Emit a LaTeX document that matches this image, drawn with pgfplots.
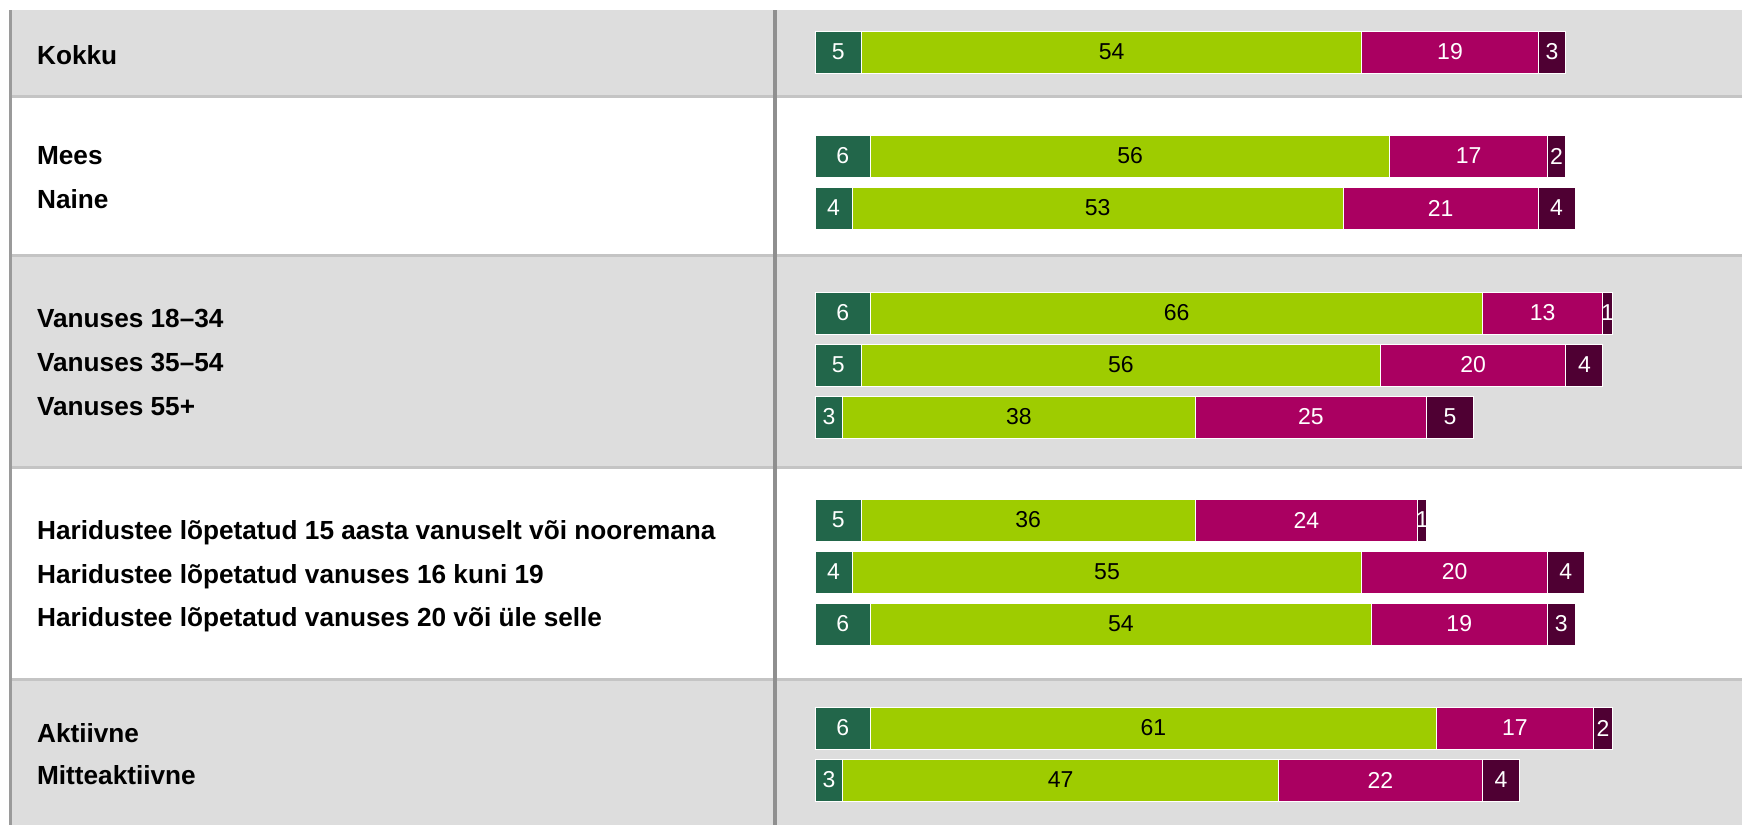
\documentclass[border=0pt]{standalone}
\usepackage{fontspec}
\setmainfont{Liberation Sans}
\usepackage{pgfplots}
\usepackage{pgfplotstable}
\pgfplotsset{compat=1.18}
\definecolor{cA}{HTML}{22664A}
\definecolor{cB}{HTML}{9ECC00}
\definecolor{cC}{HTML}{AA0061}
\definecolor{cD}{HTML}{4F0033}
\definecolor{panelgray}{HTML}{DDDDDD}
\definecolor{sepgray}{HTML}{C4C4C4}
\definecolor{vlgray}{HTML}{8F8F8F}
\definecolor{lbgray}{HTML}{9A9A9A}
\pgfplotstableread{
y a b c d
52 5 54 19 3
156 6 56 17 2
208 4 53 21 4
313 6 66 13 1
365 5 56 20 4
417 3 38 25 5
520 5 36 24 1
572 4 55 20 4
624 6 54 19 3
728 6 61 17 2
780 3 47 22 4
}\data
\pgfplotsset{base/.style={width=871pt,height=412.5pt,scale only axis,
  xmin=-87.92,xmax=100,ymin=0,ymax=825,y dir=reverse,hide axis,
  /pgf/number format/assume math mode=true}}
\newcommand{\lab}{\fontsize{13.1}{16}\selectfont\bfseries}
\begin{document}
\begin{tikzpicture}
\begin{axis}[base]
\fill[white] (axis cs:-87.92,0) rectangle (axis cs:100,825);
\fill[panelgray] (axis cs:-86.76,10) rectangle (axis cs:100,96.5);
\fill[panelgray] (axis cs:-86.76,255) rectangle (axis cs:100,467);
\fill[panelgray] (axis cs:-86.76,679) rectangle (axis cs:100,825);
\draw[sepgray, line width=1.5pt] (axis cs:-86.76,96.5) -- (axis cs:100,96.5);
\draw[sepgray, line width=1.5pt] (axis cs:-86.76,255) -- (axis cs:100,255);
\draw[sepgray, line width=1.5pt] (axis cs:-86.76,467) -- (axis cs:100,467);
\draw[sepgray, line width=1.5pt] (axis cs:-86.76,679) -- (axis cs:100,679);
\draw[lbgray, line width=1.5pt] (axis cs:-86.76,10) -- (axis cs:-86.76,825);
\draw[vlgray, line width=2pt] (axis cs:-4.31,10) -- (axis cs:-4.31,825);
\end{axis}
\begin{axis}[base, xbar stacked, bar width=42]
\addplot[fill=cA, draw=white, line width=0.5pt] table[x=a,y=y]{\data};
\addplot[fill=cB, draw=white, line width=0.5pt] table[x=b,y=y]{\data};
\addplot[fill=cC, draw=white, line width=0.5pt] table[x=c,y=y]{\data};
\addplot[fill=cD, draw=white, line width=0.5pt] table[x=d,y=y]{\data};
\end{axis}
\begin{axis}[base, clip=false,
  nodes near coords, point meta=explicit,
  every node near coord/.append style={anchor=center, inner sep=0pt, font=\fontsize{11.5}{13}\selectfont}]
\addplot[only marks, mark=none, every node near coord/.append style={text=white}] table[x expr=\thisrow{a}/2, y=y, meta=a]{\data};
\addplot[only marks, mark=none, every node near coord/.append style={text=black}] table[x expr=\thisrow{a}+\thisrow{b}/2, y=y, meta=b]{\data};
\addplot[only marks, mark=none, every node near coord/.append style={text=white}] table[x expr=\thisrow{a}+\thisrow{b}+\thisrow{c}/2, y=y, meta=c]{\data};
\addplot[only marks, mark=none, every node near coord/.append style={text=white}] table[x expr=\thisrow{a}+\thisrow{b}+\thisrow{c}+\thisrow{d}/2, y=y, meta=d]{\data};
\node[anchor=base west, font=\lab] at (axis cs:-84.68,64) {Kokku};
\node[anchor=base west, font=\lab] at (axis cs:-84.68,164.5) {Mees};
\node[anchor=base west, font=\lab] at (axis cs:-84.68,208) {Naine};
\node[anchor=base west, font=\lab] at (axis cs:-84.68,327.5) {Vanuses 18–34};
\node[anchor=base west, font=\lab] at (axis cs:-84.68,371.5) {Vanuses 35–54};
\node[anchor=base west, font=\lab] at (axis cs:-84.68,415.5) {Vanuses 55+};
\node[anchor=base west, font=\lab] at (axis cs:-84.68,539) {Haridustee lõpetatud 15 aasta vanuselt või nooremana};
\node[anchor=base west, font=\lab] at (axis cs:-84.68,583) {Haridustee lõpetatud vanuses 16 kuni 19};
\node[anchor=base west, font=\lab] at (axis cs:-84.68,626) {Haridustee lõpetatud vanuses 20 või üle selle};
\node[anchor=base west, font=\lab] at (axis cs:-84.68,742.5) {Aktiivne};
\node[anchor=base west, font=\lab] at (axis cs:-84.68,784) {Mitteaktiivne};
\end{axis}
\end{tikzpicture}
\end{document}
